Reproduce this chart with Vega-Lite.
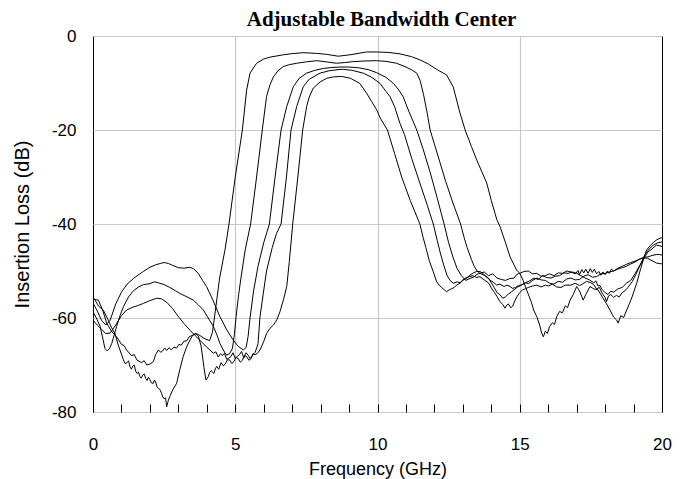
{
"$schema": "https://vega.github.io/schema/vega-lite/v6.json",
"width": 569, "height": 376,
"autosize": "none",
"padding": {"left": 93, "top": 36, "right": 20, "bottom": 67},
"background": "#ffffff",
"title": {"text": "Adjustable Bandwidth Center", "font": "Liberation Serif", "fontSize": 21, "fontWeight": "bold", "color": "#000", "anchor": "middle", "offset": -3, "dx": 4},
"config": {"view": {"stroke": "#000", "strokeWidth": 1}},
"data": {"values": [
{"c":"A","f":0,"d":-56},{"c":"A","f":0.19,"d":-56.2},{"c":"A","f":0.35,"d":-58.5},{"c":"A","f":0.48,"d":-61.1},{"c":"A","f":0.65,"d":-62.8},{"c":"A","f":0.83,"d":-64},{"c":"A","f":1.0,"d":-65.6},{"c":"A","f":1.1,"d":-65.9},{"c":"A","f":1.18,"d":-66.8},{"c":"A","f":1.35,"d":-68},{"c":"A","f":1.45,"d":-67.8},{"c":"A","f":1.54,"d":-68.9},{"c":"A","f":1.7,"d":-69.5},{"c":"A","f":1.8,"d":-69.1},{"c":"A","f":1.89,"d":-70},{"c":"A","f":2.0,"d":-69.8},{"c":"A","f":2.12,"d":-69.3},{"c":"A","f":2.2,"d":-67.8},{"c":"A","f":2.3,"d":-66.8},{"c":"A","f":2.38,"d":-67.3},{"c":"A","f":2.45,"d":-67},{"c":"A","f":2.52,"d":-66.4},{"c":"A","f":2.59,"d":-66.9},{"c":"A","f":2.68,"d":-66.3},{"c":"A","f":2.75,"d":-66.8},{"c":"A","f":2.85,"d":-66.2},{"c":"A","f":2.94,"d":-66.4},{"c":"A","f":3.02,"d":-65.6},{"c":"A","f":3.1,"d":-65.8},{"c":"A","f":3.2,"d":-64.9},{"c":"A","f":3.29,"d":-64.9},{"c":"A","f":3.38,"d":-64},{"c":"A","f":3.45,"d":-63.8},{"c":"A","f":3.64,"d":-63.3},{"c":"A","f":3.8,"d":-63.9},{"c":"A","f":3.95,"d":-64.5},{"c":"A","f":4.1,"d":-64.8},{"c":"A","f":4.2,"d":-63},{"c":"A","f":4.3,"d":-58.5},{"c":"A","f":4.45,"d":-51.5},{"c":"A","f":4.64,"d":-45.5},{"c":"A","f":4.78,"d":-40},{"c":"A","f":5.0,"d":-30},{"c":"A","f":5.25,"d":-20},{"c":"A","f":5.4,"d":-11.5},{"c":"A","f":5.52,"d":-7.9},{"c":"A","f":5.75,"d":-5.8},{"c":"A","f":6.0,"d":-4.9},{"c":"A","f":6.22,"d":-4.5},{"c":"A","f":6.69,"d":-4.0},{"c":"A","f":7.0,"d":-3.75},{"c":"A","f":7.39,"d":-3.55},{"c":"A","f":7.86,"d":-3.7},{"c":"A","f":8.21,"d":-3.9},{"c":"A","f":8.62,"d":-4.3},{"c":"A","f":9.03,"d":-4.0},{"c":"A","f":9.62,"d":-3.4},{"c":"A","f":9.97,"d":-3.4},{"c":"A","f":10.4,"d":-3.5},{"c":"A","f":10.79,"d":-3.8},{"c":"A","f":11.2,"d":-4.4},{"c":"A","f":11.5,"d":-5.1},{"c":"A","f":11.8,"d":-6},{"c":"A","f":12.08,"d":-7.1},{"c":"A","f":12.43,"d":-8.3},{"c":"A","f":12.66,"d":-10.8},{"c":"A","f":12.9,"d":-16.4},{"c":"A","f":13.08,"d":-20},{"c":"A","f":13.3,"d":-23.5},{"c":"A","f":13.49,"d":-26.4},{"c":"A","f":13.84,"d":-31.3},{"c":"A","f":14.0,"d":-35},{"c":"A","f":14.19,"d":-39},{"c":"A","f":14.31,"d":-40.6},{"c":"A","f":14.5,"d":-44},{"c":"A","f":14.66,"d":-47},{"c":"A","f":14.89,"d":-49.8},{"c":"A","f":15.0,"d":-50.5},{"c":"A","f":15.12,"d":-52},{"c":"A","f":15.24,"d":-54},{"c":"A","f":15.4,"d":-56.5},{"c":"A","f":15.5,"d":-58.5},{"c":"A","f":15.6,"d":-59.7},{"c":"A","f":15.7,"d":-61.5},{"c":"A","f":15.77,"d":-63.2},{"c":"A","f":15.83,"d":-64},{"c":"A","f":15.9,"d":-62.8},{"c":"A","f":15.97,"d":-63.3},{"c":"A","f":16.05,"d":-61.8},{"c":"A","f":16.15,"d":-61},{"c":"A","f":16.22,"d":-61.4},{"c":"A","f":16.3,"d":-59.7},{"c":"A","f":16.4,"d":-58.6},{"c":"A","f":16.5,"d":-58.9},{"c":"A","f":16.6,"d":-57.4},{"c":"A","f":16.68,"d":-57.8},{"c":"A","f":16.77,"d":-56.2},{"c":"A","f":16.88,"d":-55},{"c":"A","f":17.0,"d":-53.3},{"c":"A","f":17.1,"d":-54.2},{"c":"A","f":17.23,"d":-56.2},{"c":"A","f":17.32,"d":-55},{"c":"A","f":17.47,"d":-53.3},{"c":"A","f":17.6,"d":-53.8},{"c":"A","f":17.75,"d":-54},{"c":"A","f":17.9,"d":-55.5},{"c":"A","f":18.05,"d":-57},{"c":"A","f":18.17,"d":-58.3},{"c":"A","f":18.3,"d":-59.8},{"c":"A","f":18.4,"d":-60.4},{"c":"A","f":18.46,"d":-61.1},{"c":"A","f":18.55,"d":-59.5},{"c":"A","f":18.65,"d":-59.9},{"c":"A","f":18.76,"d":-58.3},{"c":"A","f":18.85,"d":-57},{"c":"A","f":18.95,"d":-55.5},{"c":"A","f":19.11,"d":-52.6},{"c":"A","f":19.25,"d":-49.5},{"c":"A","f":19.35,"d":-47.5},{"c":"A","f":19.46,"d":-45.5},{"c":"A","f":19.6,"d":-44.5},{"c":"A","f":19.7,"d":-43.9},{"c":"A","f":19.81,"d":-43.4},{"c":"A","f":19.9,"d":-43.1},{"c":"A","f":20,"d":-42.9},
{"c":"B","f":0,"d":-58.7},{"c":"B","f":0.12,"d":-60},{"c":"B","f":0.25,"d":-61.8},{"c":"B","f":0.35,"d":-64.5},{"c":"B","f":0.42,"d":-66.5},{"c":"B","f":0.5,"d":-67},{"c":"B","f":0.58,"d":-66.5},{"c":"B","f":0.66,"d":-65.4},{"c":"B","f":0.75,"d":-63.5},{"c":"B","f":0.83,"d":-61.8},{"c":"B","f":0.95,"d":-59.5},{"c":"B","f":1.07,"d":-57.6},{"c":"B","f":1.25,"d":-55.5},{"c":"B","f":1.42,"d":-54.2},{"c":"B","f":1.6,"d":-53.4},{"c":"B","f":1.77,"d":-52.9},{"c":"B","f":2.0,"d":-52.7},{"c":"B","f":2.15,"d":-52.3},{"c":"B","f":2.3,"d":-52.5},{"c":"B","f":2.5,"d":-52.9},{"c":"B","f":2.7,"d":-53.5},{"c":"B","f":2.9,"d":-54.2},{"c":"B","f":3.06,"d":-54.8},{"c":"B","f":3.3,"d":-55.5},{"c":"B","f":3.53,"d":-56.2},{"c":"B","f":3.7,"d":-57.2},{"c":"B","f":3.88,"d":-58.3},{"c":"B","f":4.05,"d":-60},{"c":"B","f":4.23,"d":-61.8},{"c":"B","f":4.35,"d":-63.5},{"c":"B","f":4.46,"d":-65.4},{"c":"B","f":4.58,"d":-66.8},{"c":"B","f":4.69,"d":-67.9},{"c":"B","f":4.8,"d":-67.6},{"c":"B","f":4.9,"d":-66.5},{"c":"B","f":4.97,"d":-63.5},{"c":"B","f":5.03,"d":-59.7},{"c":"B","f":5.12,"d":-55},{"c":"B","f":5.2,"d":-51.5},{"c":"B","f":5.35,"d":-45.5},{"c":"B","f":5.54,"d":-40},{"c":"B","f":5.75,"d":-30},{"c":"B","f":5.95,"d":-20},{"c":"B","f":6.1,"d":-12.9},{"c":"B","f":6.22,"d":-10.4},{"c":"B","f":6.34,"d":-8.7},{"c":"B","f":6.5,"d":-7.4},{"c":"B","f":6.69,"d":-6.5},{"c":"B","f":6.9,"d":-6.1},{"c":"B","f":7.16,"d":-5.8},{"c":"B","f":7.5,"d":-5.5},{"c":"B","f":7.86,"d":-5.25},{"c":"B","f":8.2,"d":-5.5},{"c":"B","f":8.56,"d":-5.8},{"c":"B","f":8.85,"d":-5.65},{"c":"B","f":9.15,"d":-5.45},{"c":"B","f":9.6,"d":-5.3},{"c":"B","f":9.97,"d":-5.25},{"c":"B","f":10.3,"d":-5.4},{"c":"B","f":10.67,"d":-5.8},{"c":"B","f":11.0,"d":-6.6},{"c":"B","f":11.2,"d":-7.2},{"c":"B","f":11.38,"d":-7.9},{"c":"B","f":11.5,"d":-9.5},{"c":"B","f":11.62,"d":-12.5},{"c":"B","f":11.75,"d":-16.5},{"c":"B","f":11.85,"d":-20},{"c":"B","f":12.0,"d":-23},{"c":"B","f":12.2,"d":-27},{"c":"B","f":12.4,"d":-31},{"c":"B","f":12.65,"d":-35.5},{"c":"B","f":12.92,"d":-40},{"c":"B","f":13.05,"d":-43},{"c":"B","f":13.15,"d":-45},{"c":"B","f":13.3,"d":-47.5},{"c":"B","f":13.4,"d":-49},{"c":"B","f":13.5,"d":-50},{"c":"B","f":13.6,"d":-50.5},{"c":"B","f":13.75,"d":-50.2},{"c":"B","f":13.9,"d":-51},{"c":"B","f":14.05,"d":-50.6},{"c":"B","f":14.2,"d":-51.5},{"c":"B","f":14.35,"d":-51.8},{"c":"B","f":14.5,"d":-52},{"c":"B","f":14.65,"d":-51.6},{"c":"B","f":14.8,"d":-51.5},{"c":"B","f":14.9,"d":-50.7},{"c":"B","f":15.0,"d":-50.5},{"c":"B","f":15.15,"d":-50.1},{"c":"B","f":15.3,"d":-50},{"c":"B","f":15.45,"d":-50.6},{"c":"B","f":15.6,"d":-50.5},{"c":"B","f":15.75,"d":-51.1},{"c":"B","f":15.9,"d":-51},{"c":"B","f":16.05,"d":-50.6},{"c":"B","f":16.2,"d":-51},{"c":"B","f":16.35,"d":-50.4},{"c":"B","f":16.5,"d":-50.5},{"c":"B","f":16.65,"d":-50},{"c":"B","f":16.8,"d":-50.2},{"c":"B","f":16.95,"d":-50.6},{"c":"B","f":17.05,"d":-49.9},{"c":"B","f":17.1,"d":-50.8},{"c":"B","f":17.18,"d":-49.7},{"c":"B","f":17.25,"d":-50.4},{"c":"B","f":17.32,"d":-49.6},{"c":"B","f":17.4,"d":-50.5},{"c":"B","f":17.48,"d":-49.5},{"c":"B","f":17.55,"d":-50.3},{"c":"B","f":17.62,"d":-49.6},{"c":"B","f":17.7,"d":-50.6},{"c":"B","f":17.78,"d":-50.1},{"c":"B","f":17.85,"d":-50.9},{"c":"B","f":17.92,"d":-50.2},{"c":"B","f":18.0,"d":-50.8},{"c":"B","f":18.08,"d":-50},{"c":"B","f":18.15,"d":-50.5},{"c":"B","f":18.22,"d":-49.6},{"c":"B","f":18.3,"d":-50},{"c":"B","f":18.45,"d":-49.4},{"c":"B","f":18.6,"d":-49},{"c":"B","f":18.75,"d":-48.6},{"c":"B","f":18.9,"d":-48.2},{"c":"B","f":19.05,"d":-47.9},{"c":"B","f":19.2,"d":-47.5},{"c":"B","f":19.35,"d":-47.1},{"c":"B","f":19.5,"d":-47},{"c":"B","f":19.65,"d":-46.7},{"c":"B","f":19.8,"d":-46.5},{"c":"B","f":19.9,"d":-46.5},{"c":"B","f":20,"d":-46.6},
{"c":"C","f":0,"d":-56.8},{"c":"C","f":0.15,"d":-58.5},{"c":"C","f":0.3,"d":-60.5},{"c":"C","f":0.45,"d":-61.5},{"c":"C","f":0.6,"d":-60.5},{"c":"C","f":0.8,"d":-57},{"c":"C","f":1.0,"d":-54.5},{"c":"C","f":1.2,"d":-52.8},{"c":"C","f":1.42,"d":-51.6},{"c":"C","f":1.6,"d":-50.8},{"c":"C","f":1.77,"d":-50.1},{"c":"C","f":2.0,"d":-49.2},{"c":"C","f":2.2,"d":-48.7},{"c":"C","f":2.36,"d":-48.4},{"c":"C","f":2.5,"d":-48.2},{"c":"C","f":2.65,"d":-48.4},{"c":"C","f":2.8,"d":-48.8},{"c":"C","f":3.0,"d":-49.3},{"c":"C","f":3.2,"d":-49.4},{"c":"C","f":3.4,"d":-49.2},{"c":"C","f":3.53,"d":-49.5},{"c":"C","f":3.7,"d":-50.5},{"c":"C","f":3.85,"d":-52},{"c":"C","f":3.99,"d":-53.3},{"c":"C","f":4.2,"d":-56},{"c":"C","f":4.46,"d":-59.7},{"c":"C","f":4.7,"d":-62.5},{"c":"C","f":4.93,"d":-64.7},{"c":"C","f":5.1,"d":-66},{"c":"C","f":5.28,"d":-66.8},{"c":"C","f":5.38,"d":-66.3},{"c":"C","f":5.45,"d":-64},{"c":"C","f":5.52,"d":-60},{"c":"C","f":5.65,"d":-54},{"c":"C","f":5.8,"d":-49},{"c":"C","f":6.0,"d":-44},{"c":"C","f":6.2,"d":-40},{"c":"C","f":6.4,"d":-30},{"c":"C","f":6.61,"d":-20},{"c":"C","f":6.81,"d":-15},{"c":"C","f":7.04,"d":-10.8},{"c":"C","f":7.25,"d":-9},{"c":"C","f":7.51,"d":-7.9},{"c":"C","f":7.8,"d":-7.3},{"c":"C","f":8.1,"d":-6.9},{"c":"C","f":8.4,"d":-6.7},{"c":"C","f":8.68,"d":-6.6},{"c":"C","f":9.0,"d":-6.6},{"c":"C","f":9.38,"d":-6.8},{"c":"C","f":9.7,"d":-7.2},{"c":"C","f":9.97,"d":-7.8},{"c":"C","f":10.3,"d":-8.8},{"c":"C","f":10.56,"d":-10.1},{"c":"C","f":10.75,"d":-11.5},{"c":"C","f":10.9,"d":-12.9},{"c":"C","f":11.1,"d":-16},{"c":"C","f":11.38,"d":-20},{"c":"C","f":11.6,"d":-24},{"c":"C","f":11.85,"d":-29},{"c":"C","f":12.1,"d":-34.5},{"c":"C","f":12.34,"d":-40},{"c":"C","f":12.5,"d":-44},{"c":"C","f":12.65,"d":-47},{"c":"C","f":12.8,"d":-49.5},{"c":"C","f":12.95,"d":-51},{"c":"C","f":13.1,"d":-52},{"c":"C","f":13.25,"d":-51.6},{"c":"C","f":13.4,"d":-51.2},{"c":"C","f":13.5,"d":-50.7},{"c":"C","f":13.6,"d":-50.5},{"c":"C","f":13.75,"d":-50.9},{"c":"C","f":13.9,"d":-51.5},{"c":"C","f":14.0,"d":-52.5},{"c":"C","f":14.1,"d":-53.5},{"c":"C","f":14.2,"d":-54.6},{"c":"C","f":14.3,"d":-55},{"c":"C","f":14.4,"d":-55.8},{"c":"C","f":14.5,"d":-55.5},{"c":"C","f":14.6,"d":-54.9},{"c":"C","f":14.7,"d":-54.5},{"c":"C","f":14.8,"d":-54},{"c":"C","f":14.9,"d":-53.5},{"c":"C","f":15.05,"d":-53},{"c":"C","f":15.2,"d":-52.5},{"c":"C","f":15.35,"d":-52.1},{"c":"C","f":15.5,"d":-51.5},{"c":"C","f":15.65,"d":-51.8},{"c":"C","f":15.8,"d":-51},{"c":"C","f":15.95,"d":-51.4},{"c":"C","f":16.1,"d":-51.5},{"c":"C","f":16.25,"d":-51.1},{"c":"C","f":16.4,"d":-51},{"c":"C","f":16.55,"d":-50.4},{"c":"C","f":16.7,"d":-50.5},{"c":"C","f":16.85,"d":-50.2},{"c":"C","f":17.0,"d":-50.5},{"c":"C","f":17.15,"d":-51},{"c":"C","f":17.3,"d":-51.5},{"c":"C","f":17.45,"d":-51.9},{"c":"C","f":17.6,"d":-52.5},{"c":"C","f":17.68,"d":-52.1},{"c":"C","f":17.75,"d":-53.2},{"c":"C","f":17.82,"d":-53.1},{"c":"C","f":17.9,"d":-54},{"c":"C","f":18.0,"d":-54.6},{"c":"C","f":18.1,"d":-55},{"c":"C","f":18.2,"d":-54.3},{"c":"C","f":18.3,"d":-54.5},{"c":"C","f":18.45,"d":-53.8},{"c":"C","f":18.6,"d":-53.5},{"c":"C","f":18.75,"d":-52.6},{"c":"C","f":18.9,"d":-52},{"c":"C","f":19.05,"d":-50.6},{"c":"C","f":19.2,"d":-49},{"c":"C","f":19.35,"d":-47.5},{"c":"C","f":19.5,"d":-46},{"c":"C","f":19.65,"d":-45.3},{"c":"C","f":19.8,"d":-44.5},{"c":"C","f":19.9,"d":-44.6},{"c":"C","f":20,"d":-44.8},
{"c":"D","f":0,"d":-60.5},{"c":"D","f":0.15,"d":-61.5},{"c":"D","f":0.3,"d":-62.4},{"c":"D","f":0.45,"d":-63.3},{"c":"D","f":0.6,"d":-63.2},{"c":"D","f":0.8,"d":-61.5},{"c":"D","f":1.0,"d":-59.5},{"c":"D","f":1.18,"d":-58.3},{"c":"D","f":1.4,"d":-57.7},{"c":"D","f":1.6,"d":-57.3},{"c":"D","f":1.77,"d":-56.9},{"c":"D","f":2.0,"d":-56.3},{"c":"D","f":2.24,"d":-55.8},{"c":"D","f":2.4,"d":-55.9},{"c":"D","f":2.6,"d":-56.7},{"c":"D","f":2.8,"d":-58},{"c":"D","f":3.0,"d":-59.7},{"c":"D","f":3.2,"d":-61.2},{"c":"D","f":3.41,"d":-62.6},{"c":"D","f":3.6,"d":-63.8},{"c":"D","f":3.8,"d":-65},{"c":"D","f":4.0,"d":-66.2},{"c":"D","f":4.23,"d":-67.5},{"c":"D","f":4.32,"d":-67.2},{"c":"D","f":4.4,"d":-68.3},{"c":"D","f":4.48,"d":-67.6},{"c":"D","f":4.55,"d":-68},{"c":"D","f":4.62,"d":-67.5},{"c":"D","f":4.7,"d":-68.8},{"c":"D","f":4.78,"d":-68.5},{"c":"D","f":4.85,"d":-68.2},{"c":"D","f":4.92,"d":-67.4},{"c":"D","f":5.0,"d":-68.6},{"c":"D","f":5.08,"d":-68.1},{"c":"D","f":5.15,"d":-67.8},{"c":"D","f":5.22,"d":-67.1},{"c":"D","f":5.3,"d":-68.5},{"c":"D","f":5.38,"d":-67.4},{"c":"D","f":5.45,"d":-67.9},{"c":"D","f":5.52,"d":-68.6},{"c":"D","f":5.58,"d":-68.2},{"c":"D","f":5.65,"d":-67.6},{"c":"D","f":5.7,"d":-67.3},{"c":"D","f":5.8,"d":-65.5},{"c":"D","f":5.87,"d":-59.7},{"c":"D","f":5.98,"d":-55},{"c":"D","f":6.1,"d":-50},{"c":"D","f":6.3,"d":-45},{"c":"D","f":6.45,"d":-42},{"c":"D","f":6.61,"d":-40},{"c":"D","f":6.8,"d":-30},{"c":"D","f":6.96,"d":-20},{"c":"D","f":7.16,"d":-15},{"c":"D","f":7.39,"d":-10.8},{"c":"D","f":7.6,"d":-9.2},{"c":"D","f":7.98,"d":-7.9},{"c":"D","f":8.3,"d":-7.4},{"c":"D","f":8.68,"d":-7.1},{"c":"D","f":8.8,"d":-7.1},{"c":"D","f":9.1,"d":-7.3},{"c":"D","f":9.5,"d":-7.9},{"c":"D","f":9.8,"d":-8.8},{"c":"D","f":10.09,"d":-10.1},{"c":"D","f":10.3,"d":-11.8},{"c":"D","f":10.44,"d":-12.9},{"c":"D","f":10.6,"d":-15},{"c":"D","f":10.79,"d":-18.6},{"c":"D","f":10.95,"d":-21},{"c":"D","f":11.2,"d":-26},{"c":"D","f":11.5,"d":-31.5},{"c":"D","f":11.75,"d":-36},{"c":"D","f":11.96,"d":-40},{"c":"D","f":12.1,"d":-43.5},{"c":"D","f":12.2,"d":-46},{"c":"D","f":12.33,"d":-48.8},{"c":"D","f":12.45,"d":-51},{"c":"D","f":12.55,"d":-52},{"c":"D","f":12.66,"d":-52.6},{"c":"D","f":12.8,"d":-52.3},{"c":"D","f":12.9,"d":-52.5},{"c":"D","f":13.0,"d":-51.9},{"c":"D","f":13.1,"d":-51.5},{"c":"D","f":13.22,"d":-51.2},{"c":"D","f":13.35,"d":-51},{"c":"D","f":13.48,"d":-51.4},{"c":"D","f":13.6,"d":-51.2},{"c":"D","f":13.75,"d":-51.9},{"c":"D","f":13.9,"d":-52.5},{"c":"D","f":14.0,"d":-53.6},{"c":"D","f":14.1,"d":-54.5},{"c":"D","f":14.2,"d":-55.4},{"c":"D","f":14.3,"d":-56.5},{"c":"D","f":14.4,"d":-57.1},{"c":"D","f":14.48,"d":-57.9},{"c":"D","f":14.55,"d":-57.2},{"c":"D","f":14.6,"d":-57},{"c":"D","f":14.68,"d":-57.8},{"c":"D","f":14.75,"d":-57.5},{"c":"D","f":14.83,"d":-56.3},{"c":"D","f":14.9,"d":-55.5},{"c":"D","f":15.0,"d":-54.6},{"c":"D","f":15.1,"d":-54},{"c":"D","f":15.2,"d":-53.8},{"c":"D","f":15.3,"d":-53.5},{"c":"D","f":15.45,"d":-53.2},{"c":"D","f":15.6,"d":-53},{"c":"D","f":15.75,"d":-53.4},{"c":"D","f":15.9,"d":-53},{"c":"D","f":16.0,"d":-53.2},{"c":"D","f":16.15,"d":-52.8},{"c":"D","f":16.3,"d":-53.4},{"c":"D","f":16.45,"d":-53.5},{"c":"D","f":16.6,"d":-53},{"c":"D","f":16.8,"d":-53},{"c":"D","f":16.95,"d":-52.6},{"c":"D","f":17.1,"d":-53.1},{"c":"D","f":17.2,"d":-52.8},{"c":"D","f":17.35,"d":-52.2},{"c":"D","f":17.5,"d":-52.5},{"c":"D","f":17.6,"d":-52.9},{"c":"D","f":17.7,"d":-53.8},{"c":"D","f":17.8,"d":-53.5},{"c":"D","f":17.9,"d":-54.8},{"c":"D","f":18.0,"d":-55.6},{"c":"D","f":18.05,"d":-56.5},{"c":"D","f":18.12,"d":-55.3},{"c":"D","f":18.2,"d":-55},{"c":"D","f":18.3,"d":-55.6},{"c":"D","f":18.4,"d":-55.2},{"c":"D","f":18.5,"d":-55.5},{"c":"D","f":18.6,"d":-54.6},{"c":"D","f":18.7,"d":-54.2},{"c":"D","f":18.8,"d":-53.5},{"c":"D","f":18.95,"d":-52.3},{"c":"D","f":19.1,"d":-50.5},{"c":"D","f":19.25,"d":-48.5},{"c":"D","f":19.4,"d":-46.5},{"c":"D","f":19.55,"d":-45.3},{"c":"D","f":19.7,"d":-44.5},{"c":"D","f":19.85,"d":-44},{"c":"D","f":20,"d":-43.8},
{"c":"E","f":0,"d":-55.5},{"c":"E","f":0.1,"d":-56.5},{"c":"E","f":0.2,"d":-57.5},{"c":"E","f":0.36,"d":-58.3},{"c":"E","f":0.5,"d":-60},{"c":"E","f":0.65,"d":-62},{"c":"E","f":0.77,"d":-63.3},{"c":"E","f":0.9,"d":-66},{"c":"E","f":1.07,"d":-68.9},{"c":"E","f":1.13,"d":-69.7},{"c":"E","f":1.2,"d":-69.5},{"c":"E","f":1.25,"d":-69.1},{"c":"E","f":1.3,"d":-70.4},{"c":"E","f":1.35,"d":-70.9},{"c":"E","f":1.4,"d":-70.2},{"c":"E","f":1.45,"d":-70},{"c":"E","f":1.5,"d":-71.3},{"c":"E","f":1.55,"d":-71.8},{"c":"E","f":1.6,"d":-71.5},{"c":"E","f":1.65,"d":-72.5},{"c":"E","f":1.7,"d":-72.8},{"c":"E","f":1.75,"d":-72.1},{"c":"E","f":1.8,"d":-71.9},{"c":"E","f":1.85,"d":-72.8},{"c":"E","f":1.9,"d":-73.3},{"c":"E","f":1.95,"d":-72.6},{"c":"E","f":2.0,"d":-73.1},{"c":"E","f":2.05,"d":-73.8},{"c":"E","f":2.12,"d":-73.9},{"c":"E","f":2.16,"d":-73.2},{"c":"E","f":2.2,"d":-73.6},{"c":"E","f":2.25,"d":-74.6},{"c":"E","f":2.3,"d":-75},{"c":"E","f":2.35,"d":-75.2},{"c":"E","f":2.41,"d":-76},{"c":"E","f":2.45,"d":-76.8},{"c":"E","f":2.5,"d":-77.2},{"c":"E","f":2.55,"d":-77},{"c":"E","f":2.59,"d":-78.9},{"c":"E","f":2.65,"d":-77.5},{"c":"E","f":2.7,"d":-76.7},{"c":"E","f":2.8,"d":-75.3},{"c":"E","f":2.94,"d":-73.9},{"c":"E","f":3.05,"d":-71},{"c":"E","f":3.17,"d":-68.2},{"c":"E","f":3.3,"d":-66},{"c":"E","f":3.41,"d":-64.7},{"c":"E","f":3.5,"d":-63.7},{"c":"E","f":3.6,"d":-63.3},{"c":"E","f":3.7,"d":-63.8},{"c":"E","f":3.8,"d":-66},{"c":"E","f":3.9,"d":-70.5},{"c":"E","f":3.97,"d":-73.2},{"c":"E","f":4.05,"d":-72.5},{"c":"E","f":4.1,"d":-71.6},{"c":"E","f":4.15,"d":-71.2},{"c":"E","f":4.25,"d":-71.8},{"c":"E","f":4.3,"d":-70.8},{"c":"E","f":4.35,"d":-70.3},{"c":"E","f":4.42,"d":-70.9},{"c":"E","f":4.5,"d":-69.5},{"c":"E","f":4.58,"d":-70.2},{"c":"E","f":4.65,"d":-69.8},{"c":"E","f":4.72,"d":-68.9},{"c":"E","f":4.8,"d":-68.9},{"c":"E","f":4.88,"d":-69.7},{"c":"E","f":4.95,"d":-69.3},{"c":"E","f":5.02,"d":-68.4},{"c":"E","f":5.1,"d":-68.6},{"c":"E","f":5.18,"d":-69.4},{"c":"E","f":5.25,"d":-69},{"c":"E","f":5.32,"d":-68},{"c":"E","f":5.4,"d":-68.2},{"c":"E","f":5.48,"d":-69},{"c":"E","f":5.55,"d":-68.7},{"c":"E","f":5.62,"d":-67.6},{"c":"E","f":5.7,"d":-67.8},{"c":"E","f":5.78,"d":-67.5},{"c":"E","f":5.87,"d":-66.8},{"c":"E","f":6.0,"d":-65},{"c":"E","f":6.1,"d":-63.3},{"c":"E","f":6.22,"d":-62.2},{"c":"E","f":6.34,"d":-61.5},{"c":"E","f":6.46,"d":-60.4},{"c":"E","f":6.57,"d":-58.7},{"c":"E","f":6.7,"d":-56},{"c":"E","f":6.81,"d":-53.3},{"c":"E","f":6.9,"d":-48},{"c":"E","f":7.02,"d":-40},{"c":"E","f":7.2,"d":-30},{"c":"E","f":7.37,"d":-20},{"c":"E","f":7.51,"d":-15},{"c":"E","f":7.6,"d":-13},{"c":"E","f":7.74,"d":-11.1},{"c":"E","f":7.98,"d":-9.8},{"c":"E","f":8.21,"d":-9},{"c":"E","f":8.45,"d":-8.7},{"c":"E","f":8.74,"d":-8.6},{"c":"E","f":9.05,"d":-9},{"c":"E","f":9.38,"d":-10.1},{"c":"E","f":9.62,"d":-12.2},{"c":"E","f":9.8,"d":-14},{"c":"E","f":9.97,"d":-15.7},{"c":"E","f":10.1,"d":-17.5},{"c":"E","f":10.35,"d":-20},{"c":"E","f":10.6,"d":-25},{"c":"E","f":10.85,"d":-30},{"c":"E","f":11.15,"d":-35},{"c":"E","f":11.49,"d":-40},{"c":"E","f":11.6,"d":-42.8},{"c":"E","f":11.7,"d":-45},{"c":"E","f":11.82,"d":-47.8},{"c":"E","f":11.95,"d":-50},{"c":"E","f":12.08,"d":-52.3},{"c":"E","f":12.17,"d":-53},{"c":"E","f":12.25,"d":-53.5},{"c":"E","f":12.35,"d":-54},{"c":"E","f":12.43,"d":-54.4},{"c":"E","f":12.52,"d":-54},{"c":"E","f":12.6,"d":-53.8},{"c":"E","f":12.7,"d":-53.5},{"c":"E","f":12.78,"d":-53},{"c":"E","f":12.9,"d":-52.6},{"c":"E","f":13.0,"d":-52},{"c":"E","f":13.12,"d":-51.6},{"c":"E","f":13.25,"d":-50.9},{"c":"E","f":13.37,"d":-50.4},{"c":"E","f":13.49,"d":-50.1},{"c":"E","f":13.6,"d":-50.1},{"c":"E","f":13.7,"d":-50.5},{"c":"E","f":13.82,"d":-51.2},{"c":"E","f":13.95,"d":-51.9},{"c":"E","f":14.07,"d":-52.4},{"c":"E","f":14.19,"d":-53},{"c":"E","f":14.3,"d":-52.8},{"c":"E","f":14.45,"d":-53.3},{"c":"E","f":14.55,"d":-53},{"c":"E","f":14.66,"d":-53.3},{"c":"E","f":14.75,"d":-53.7},{"c":"E","f":14.85,"d":-53.5},{"c":"E","f":14.95,"d":-53.1},{"c":"E","f":15.05,"d":-53},{"c":"E","f":15.2,"d":-52.5},{"c":"E","f":15.3,"d":-52.7},{"c":"E","f":15.45,"d":-52},{"c":"E","f":15.6,"d":-51.5},{"c":"E","f":15.75,"d":-51.9},{"c":"E","f":15.9,"d":-52},{"c":"E","f":16.05,"d":-52.6},{"c":"E","f":16.2,"d":-52.8},{"c":"E","f":16.35,"d":-52.2},{"c":"E","f":16.5,"d":-52.4},{"c":"E","f":16.65,"d":-51.7},{"c":"E","f":16.8,"d":-51.5},{"c":"E","f":16.95,"d":-51.9},{"c":"E","f":17.1,"d":-51.8},{"c":"E","f":17.25,"d":-51.1},{"c":"E","f":17.4,"d":-50.8},{"c":"E","f":17.55,"d":-51.3},{"c":"E","f":17.7,"d":-51.2},{"c":"E","f":17.85,"d":-50.6},{"c":"E","f":18.0,"d":-50.5},{"c":"E","f":18.15,"d":-50.2},{"c":"E","f":18.3,"d":-50},{"c":"E","f":18.45,"d":-49.6},{"c":"E","f":18.6,"d":-49.3},{"c":"E","f":18.75,"d":-49},{"c":"E","f":18.9,"d":-48.5},{"c":"E","f":19.05,"d":-48.1},{"c":"E","f":19.2,"d":-47.5},{"c":"E","f":19.35,"d":-47.2},{"c":"E","f":19.5,"d":-47.3},{"c":"E","f":19.65,"d":-47.8},{"c":"E","f":19.8,"d":-48.3},{"c":"E","f":19.9,"d":-48.4},{"c":"E","f":20,"d":-48.5}
]},
"mark": {"type": "line", "stroke": "#000", "strokeWidth": 1, "interpolate": "linear", "clip": true},
"encoding": {
  "x": {"field": "f", "type": "quantitative", "scale": {"domain": [0, 20], "nice": false, "zero": false},
    "axis": {"values": [0,1,2,3,4,5,6,7,8,9,10,11,12,13,14,15,16,17,18,19,20], "title": "Frequency (GHz)",
      "labelExpr": "datum.value % 5 === 0 ? toString(datum.value) : ''",
      "domain": false, "tickSize": -8, "tickColor": "#000", "tickWidth": 1,
      "grid": true, "gridColor": "#c8c8c8", "gridWidth": 1.2,
      "gridOpacity": {"condition": {"test": "datum.value % 5 === 0 && datum.value > 0 && datum.value < 20", "value": 1}, "value": 0},
      "labelFont": "Liberation Sans", "labelFontSize": 17, "labelColor": "#000", "labelPadding": 32, "labelFlush": false,
      "titleFont": "Liberation Sans", "titleFontSize": 18, "titleFontWeight": "normal", "titleColor": "#000", "titlePadding": 8}},
  "y": {"field": "d", "type": "quantitative", "scale": {"domain": [-80, 0], "nice": false, "zero": false},
    "axis": {"values": [0,-20,-40,-60,-80], "title": "Insertion Loss (dB)",
      "labelExpr": "toString(datum.value)",
      "domain": false, "ticks": false,
      "grid": true, "gridColor": "#c8c8c8", "gridWidth": 1.2,
      "labelFont": "Liberation Sans", "labelFontSize": 17, "labelColor": "#000", "labelPadding": 17, "labelFlush": false,
      "titleFont": "Liberation Sans", "titleFontSize": 20, "titleFontWeight": "normal", "titleColor": "#000", "titlePadding": 19}},
  "detail": {"field": "c", "type": "nominal"}
}
}
